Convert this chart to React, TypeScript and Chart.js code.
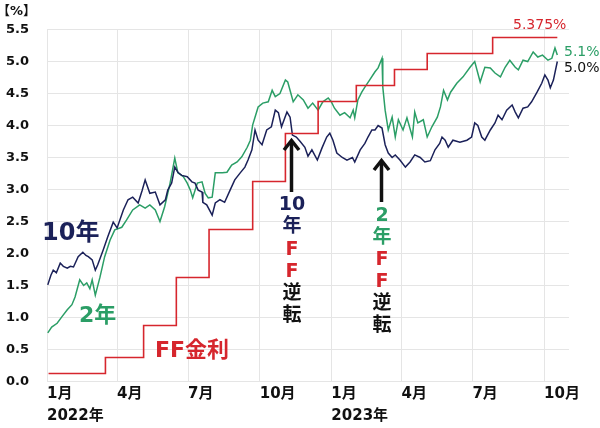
import React, { useEffect, useRef } from 'react';
import { Chart, registerables } from 'chart.js';

Chart.register(...registerables);

// x values are days since 2022-01-01
const tenYearDays = [1, 5, 8, 12, 17, 21, 26, 30, 34, 40, 46, 50, 53, 58, 62, 65, 72, 78, 85, 90, 98, 104, 110, 117, 122, 126, 132, 139, 145, 152, 155, 160, 164, 168, 173, 180, 186, 190, 194, 199, 200, 205, 212, 216, 222, 228, 235, 241, 248, 254, 258, 263, 267, 271, 276, 282, 288, 293, 297, 301, 308, 312, 315, 320, 325, 331, 335, 340, 347, 353, 359, 363, 367, 372, 379, 385, 392, 395, 402, 408, 412, 417, 421, 425, 430, 434, 438, 443, 447, 453, 460, 466, 472, 479, 485, 492, 498, 504, 507, 511, 515, 521, 530, 539, 545, 549, 553, 558, 562, 569, 575, 579, 584, 590, 597, 601, 605, 611, 617, 622, 629, 635, 639, 643, 646, 650, 655];
const tenYearValues = [1.51, 1.66, 1.74, 1.70, 1.85, 1.80, 1.77, 1.80, 1.79, 1.95, 2.02, 1.97, 1.95, 1.90, 1.74, 1.82, 2.05, 2.26, 2.49, 2.40, 2.68, 2.84, 2.88, 2.79, 2.98, 3.15, 2.94, 2.96, 2.76, 2.84, 2.99, 3.10, 3.35, 3.27, 3.22, 3.20, 3.12, 3.10, 2.99, 2.96, 2.80, 2.76, 2.60, 2.79, 2.84, 2.80, 2.99, 3.15, 3.26, 3.35, 3.46, 3.62, 3.93, 3.77, 3.70, 3.93, 3.98, 4.24, 4.20, 3.98, 4.21, 4.13, 3.85, 3.82, 3.75, 3.66, 3.52, 3.62, 3.46, 3.65, 3.82, 3.88, 3.77, 3.57, 3.50, 3.46, 3.50, 3.43, 3.62, 3.72, 3.82, 3.93, 3.93, 4.00, 3.96, 3.70, 3.57, 3.50, 3.54, 3.46, 3.35, 3.43, 3.54, 3.50, 3.43, 3.45, 3.62, 3.72, 3.82, 3.77, 3.66, 3.77, 3.74, 3.77, 3.82, 4.04, 4.00, 3.82, 3.77, 3.93, 4.04, 4.16, 4.09, 4.24, 4.32, 4.21, 4.12, 4.27, 4.29, 4.37, 4.52, 4.66, 4.79, 4.71, 4.59, 4.71, 5.00];

const twoYearDays = [1, 6, 13, 19, 26, 32, 36, 42, 47, 51, 55, 58, 62, 68, 74, 81, 87, 96, 102, 110, 119, 126, 132, 139, 145, 151, 158, 164, 168, 175, 180, 184, 187, 193, 199, 203, 207, 212, 216, 225, 231, 237, 244, 250, 257, 261, 264, 267, 271, 277, 284, 289, 293, 299, 306, 309, 316, 322, 329, 335, 341, 348, 354, 361, 365, 369, 376, 382, 389, 393, 395, 399, 404, 408, 414, 421, 425, 430, 431, 434, 438, 443, 447, 451, 457, 462, 469, 472, 476, 483, 488, 494, 501, 505, 509, 514, 518, 526, 534, 543, 549, 556, 562, 569, 575, 582, 588, 594, 601, 605, 611, 617, 624, 630, 636, 643, 648, 652, 655];
const twoYearValues = [0.76, 0.85, 0.91, 1.01, 1.12, 1.20, 1.32, 1.59, 1.50, 1.54, 1.45, 1.59, 1.35, 1.63, 1.95, 2.21, 2.37, 2.41, 2.52, 2.68, 2.76, 2.71, 2.76, 2.68, 2.50, 2.73, 3.10, 3.49, 3.26, 3.20, 3.10, 2.99, 2.87, 3.10, 3.12, 2.94, 2.87, 2.88, 3.26, 3.26, 3.27, 3.38, 3.43, 3.51, 3.66, 3.77, 4.01, 4.13, 4.29, 4.35, 4.37, 4.55, 4.45, 4.50, 4.71, 4.68, 4.37, 4.48, 4.40, 4.27, 4.35, 4.24, 4.37, 4.43, 4.37, 4.27, 4.16, 4.20, 4.12, 4.24, 4.12, 4.40, 4.52, 4.60, 4.71, 4.84, 4.90, 5.05, 4.60, 4.24, 3.93, 4.13, 3.82, 4.09, 3.93, 4.12, 3.82, 4.21, 4.04, 4.09, 3.82, 3.98, 4.13, 4.29, 4.55, 4.40, 4.52, 4.66, 4.76, 4.91, 5.00, 4.68, 4.91, 4.90, 4.82, 4.76, 4.91, 5.02, 4.91, 4.87, 5.02, 5.00, 5.15, 5.07, 5.10, 5.02, 5.05, 5.21, 5.10];

const ffDays = [2, 75, 124, 166, 208, 264, 306, 348, 397, 446, 488, 572, 655];
const ffValues = [0.125, 0.375, 0.875, 1.625, 2.375, 3.125, 3.875, 4.375, 4.625, 4.875, 5.125, 5.375, 5.375];

const tickDays = [0, 90, 181, 273, 365, 455, 546, 638];
const tickLabels = [['1月', '2022年'], ['4月'], ['7月'], ['10月'], ['1月', '2023年'], ['4月'], ['7月'], ['10月']];

const yMin = 0;
const yMax = 5.5;
const yStep = 0.5;

const NAVY = '#1b2159';
const GREEN = '#2b9e66';
const RED = '#d6262d';
const FONT = '"DejaVu Sans", "Noto Sans CJK JP", sans-serif';

const toPoints = (days: number[], vals: number[]) => days.map((d, i) => ({ x: d, y: vals[i] }));

const annotationPlugin = {
  id: 'annotations',
  afterDraw(chart: any) {
    const ctx = chart.ctx as CanvasRenderingContext2D;
    ctx.save();
    const text = (s: string, x: number, y: number, size: number, color: string, weight = 'bold', align: CanvasTextAlign = 'left') => {
      ctx.font = `${weight} ${size}px ${FONT}`;
      ctx.fillStyle = color;
      ctx.textAlign = align;
      ctx.textBaseline = 'middle';
      ctx.fillText(s, x, y);
    };
    // unit
    text('【%】', -3, 12, 13, '#111');
    // series labels
    text('10年', 42, 234, 24, NAVY);
    text('2年', 79, 316, 22, GREEN);
    text('FF金利', 155, 351, 22, RED);
    // end labels
    text('5.375%', 513, 25, 14, RED, 'normal');
    text('5.1%', 564, 52, 14, GREEN, 'normal');
    text('5.0%', 564, 68, 14, '#111', 'normal');

    const arrow = (x: number, tip: number, bottom: number) => {
      ctx.strokeStyle = '#111';
      ctx.lineWidth = 3.5;
      ctx.lineCap = 'butt';
      ctx.lineJoin = 'miter';
      ctx.beginPath();
      ctx.moveTo(x, bottom);
      ctx.lineTo(x, tip + 2);
      ctx.stroke();
      ctx.beginPath();
      ctx.moveTo(x - 7.5, tip + 11);
      ctx.lineTo(x, tip + 1.5);
      ctx.lineTo(x + 7.5, tip + 11);
      ctx.stroke();
    };
    arrow(291.5, 139, 192);
    arrow(381.5, 159, 202);

    const vertical = (x: number, y0: number, step: number, parts: [string, string][]) => {
      parts.forEach(([s, c], i) => text(s, x, y0 + i * step, 19, c, 'bold', 'center'));
    };
    vertical(292, 205, 22.3, [['10', NAVY], ['年', NAVY], ['F', RED], ['F', RED], ['逆', '#111'], ['転', '#111']]);
    vertical(382, 216, 22, [['2', GREEN], ['年', GREEN], ['F', RED], ['F', RED], ['逆', '#111'], ['転', '#111']]);
    ctx.restore();
  },
};

export default function App() {
  const ref = useRef<HTMLCanvasElement | null>(null);
  useEffect(() => {
    if (!ref.current) return;
    const chart = new Chart(ref.current, {
      type: 'line',
      data: {
        datasets: [
          {
            label: 'FF金利',
            data: toPoints(ffDays, ffValues),
            borderColor: RED,
            borderWidth: 1.6,
            stepped: true,
            pointRadius: 0,
            fill: false,
          },
          {
            label: '10年',
            data: toPoints(tenYearDays, tenYearValues),
            borderColor: NAVY,
            borderWidth: 1.5,
            pointRadius: 0,
            tension: 0,
            fill: false,
          },
          {
            label: '2年',
            data: toPoints(twoYearDays, twoYearValues),
            borderColor: GREEN,
            borderWidth: 1.5,
            pointRadius: 0,
            tension: 0,
            fill: false,
          },
        ],
      },
      options: {
        responsive: false,
        animation: false,
        layout: { padding: { top: 29.5, right: 31, left: 0, bottom: 0 } },
        plugins: { legend: { display: false }, tooltip: { enabled: false } },
        scales: {
          x: {
            type: 'linear',
            min: 0,
            max: 670,
            afterBuildTicks: (s: any) => {
              s.ticks = tickDays.map((v) => ({ value: v }));
            },
            afterFit: (s: any) => {
              s.height = 46.5;
            },
            ticks: {
              autoSkip: false,
              maxRotation: 0,
              minRotation: 0,
              align: 'start',
              padding: 2,
              color: '#111',
              font: { family: FONT, size: 15, weight: 'bold', lineHeight: 1.45 },
              callback: (_v: any, i: number) => tickLabels[i],
            },
            grid: { color: '#e5e5e5', lineWidth: 1, drawTicks: false },
            border: { display: false },
          },
          y: {
            min: yMin,
            max: yMax,
            afterFit: (s: any) => {
              s.width = 47;
            },
            ticks: {
              stepSize: yStep,
              padding: 18,
              color: '#111',
              font: { family: FONT, size: 13, weight: 'bold' },
              callback: (v: any) => Number(v).toFixed(1),
            },
            grid: { color: '#e5e5e5', lineWidth: 1, drawTicks: false },
            border: { display: false },
          },
        },
      },
      plugins: [annotationPlugin],
    } as any);
    return () => chart.destroy();
  }, []);
  return (
    <div style={{ position: 'absolute', left: 0, top: 0, width: 600, height: 428, background: '#fff' }}>
      <canvas ref={ref} width={600} height={428} style={{ display: 'block' }} />
    </div>
  );
}
